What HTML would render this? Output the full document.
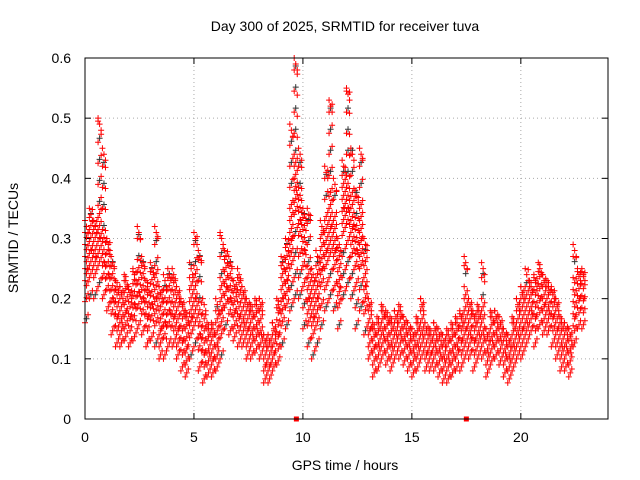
<!DOCTYPE html>
<html><head><meta charset="utf-8"><style>
body{margin:0;background:#fff;}
svg{display:block;font-family:"Liberation Sans",sans-serif;}
</style></head><body>
<svg id="chart" width="640" height="480" viewBox="0 0 640 480">
<rect width="640" height="480" fill="#fff"/>
<text x="345" y="31" font-size="14" text-anchor="middle">Day 300 of 2025, SRMTID for receiver tuva</text>
<text x="345" y="470" font-size="14" text-anchor="middle">GPS time / hours</text>
<text transform="translate(18,238) rotate(-90)" font-size="14" text-anchor="middle">SRMTID / TECUs</text>
<g id="grid"></g>
<g id="ticks"></g>
<g id="points"></g>
<rect x="85" y="58" width="523" height="361" fill="none" stroke="#000" stroke-width="1"/>
</svg>
<script>
const times=[0,0.2,0.4,0.6,0.8,1,1.2,1.4,1.6,1.8,2,2.2,2.4,2.6,2.8,3,3.2,3.4,3.6,3.8,4,4.2,4.4,4.6,4.8,5,5.2,5.4,5.6,5.8,6,6.2,6.4,6.6,6.8,7,7.2,7.4,7.6,7.8,8,8.2,8.4,8.6,8.8,9,9.2,9.4,9.6,9.8,10,10.2,10.4,10.6,10.8,11,11.2,11.4,11.6,11.8,12,12.2,12.4,12.6,12.8,13,13.2,13.4,13.6,13.8,14,14.2,14.4,14.6,14.8,15,15.2,15.4,15.6,15.8,16,16.2,16.4,16.6,16.8,17,17.2,17.4,17.6,17.8,18,18.2,18.4,18.6,18.8,19,19.2,19.4,19.6,19.8,20,20.2,20.4,20.6,20.8,21,21.2,21.4,21.6,21.8,22,22.2,22.4,22.6,22.8];
const lowVals=[.16,.2,.2,.22,.2,.18,.14,.12,.12,.13,.12,.13,.15,.14,.12,.13,.12,.1,.1,.12,.12,.1,.08,.07,.1,.12,.08,.06,.07,.07,.08,.1,.15,.14,.13,.12,.12,.1,.1,.11,.1,.06,.06,.08,.09,.12,.15,.18,.2,.2,.15,.12,.1,.12,.15,.18,.2,.18,.15,.2,.22,.2,.15,.18,.14,.1,.07,.08,.1,.09,.08,.1,.1,.09,.08,.07,.08,.1,.08,.08,.08,.07,.06,.06,.07,.08,.08,.1,.1,.08,.1,.1,.07,.09,.1,.09,.07,.06,.08,.1,.1,.12,.14,.12,.15,.14,.14,.12,.1,.08,.08,.07,.12,.15,.15];
const midVals=[.25,.28,.27,.3,.26,.24,.2,.17,.16,.18,.17,.19,.21,.2,.17,.19,.2,.15,.16,.18,.17,.15,.13,.12,.17,.2,.14,.11,.11,.1,.12,.18,.22,.2,.18,.17,.16,.15,.14,.15,.14,.09,.09,.11,.14,.2,.23,.3,.38,.33,.28,.2,.17,.2,.25,.28,.32,.28,.22,.35,.35,.32,.28,.3,.22,.15,.12,.12,.14,.13,.12,.14,.14,.13,.12,.11,.12,.14,.11,.11,.12,.11,.1,.1,.11,.12,.13,.15,.14,.13,.14,.14,.11,.13,.14,.13,.11,.1,.12,.14,.15,.16,.18,.17,.2,.19,.18,.17,.15,.12,.12,.11,.17,.2,.2];
const highVals=[.33,.35,.33,.5,.45,.3,.27,.23,.22,.24,.22,.25,.32,.27,.23,.26,.32,.22,.24,.25,.25,.22,.2,.18,.26,.31,.28,.2,.16,.16,.2,.31,.28,.27,.23,.25,.22,.2,.19,.2,.2,.14,.14,.16,.2,.27,.3,.49,.6,.45,.35,.35,.25,.28,.33,.42,.53,.4,.3,.43,.55,.45,.38,.45,.3,.2,.16,.17,.19,.18,.17,.18,.19,.17,.16,.15,.17,.2,.16,.15,.16,.15,.14,.15,.16,.17,.18,.27,.2,.18,.19,.26,.15,.18,.18,.17,.15,.14,.17,.2,.22,.25,.23,.24,.26,.24,.23,.22,.2,.17,.16,.15,.29,.25,.25];
const xTicks=[0,5,10,15,20];
const yTicks=[0,0.1,0.2,0.3,0.4,0.5,0.6];
const gapMarks=[9.7,17.5];
const NS="http://www.w3.org/2000/svg";
const X0=85,X1=608,Y0=419,Y1=58;
function xs(v){return X0+(v/24)*(X1-X0);}
function ys(v){return Y0-(v/0.6)*(Y0-Y1);}
function mk(tag,attrs,parent){const e=document.createElementNS(NS,tag);for(const k in attrs)e.setAttribute(k,attrs[k]);parent.appendChild(e);return e;}
const grid=document.getElementById('grid'),ticks=document.getElementById('ticks'),pts=document.getElementById('points');
xTicks.forEach(t=>{const x=xs(t);
 if(t>0){const g=mk('line',{x1:x,x2:x,y1:Y1,y2:Y0,stroke:'#aaa','stroke-dasharray':'1,3'},grid);
 
 }
 const l=mk('text',{x:x,y:Y0+23,'font-size':14,'text-anchor':'middle'},ticks);l.textContent=t;
 
 
 mk('line',{x1:x,x2:x,y1:Y0,y2:Y0-6,stroke:'#000'},ticks);mk('line',{x1:x,x2:x,y1:Y1,y2:Y1+6,stroke:'#000'},ticks);
});
yTicks.forEach(t=>{const y=ys(t);
 if(t>0&&t<0.6){const g=mk('line',{x1:X0,x2:X1,y1:y,y2:y,stroke:'#aaa','stroke-dasharray':'1,3'},grid);
 
 }
 const l=mk('text',{x:X0-14,y:y+5,'font-size':14,'text-anchor':'end'},ticks);l.textContent=t;
 
 
 mk('line',{x1:X0,x2:X0+6,y1:y,y2:y,stroke:'#000'},ticks);mk('line',{x1:X1,x2:X1-6,y1:y,y2:y,stroke:'#000'},ticks);
});
function plus(t,v,color){const x=xs(t),y=ys(v);
 const p=mk('path',{d:`M${x-3},${y}h6M${x},${y-3}v6`,stroke:color,'stroke-width':1,fill:'none'},pts);
 
 }
const offsets=[0,0.07,0.14];
const stepFrac=[0,0.33,0.66];
times.forEach((t,i)=>{
 offsets.forEach((o,k)=>{
  const lo=lowVals[i],hi=highVals[i],mid=midVals[i];
  let v=lo+(stepFrac[k]*0.02);
  while(v<=hi){
   const d=Math.abs(v-mid);
   plus(t+o,v,(k===1&&d>=0.06)?'#333':'#f00');
   v+= (d<0.05)?0.02:0.035;
  }
  plus(t+o,hi-(k*0.01),'#f00');
 });
});
times.forEach((t,i)=>{plus(t+0.1,midVals[i],'#f00');});
gapMarks.forEach(t=>{const r=mk('rect',{x:xs(t)-2.5,y:Y0-2.5,width:5,height:5,fill:'#f00'},pts);
 
 });
</script>
</body></html>
